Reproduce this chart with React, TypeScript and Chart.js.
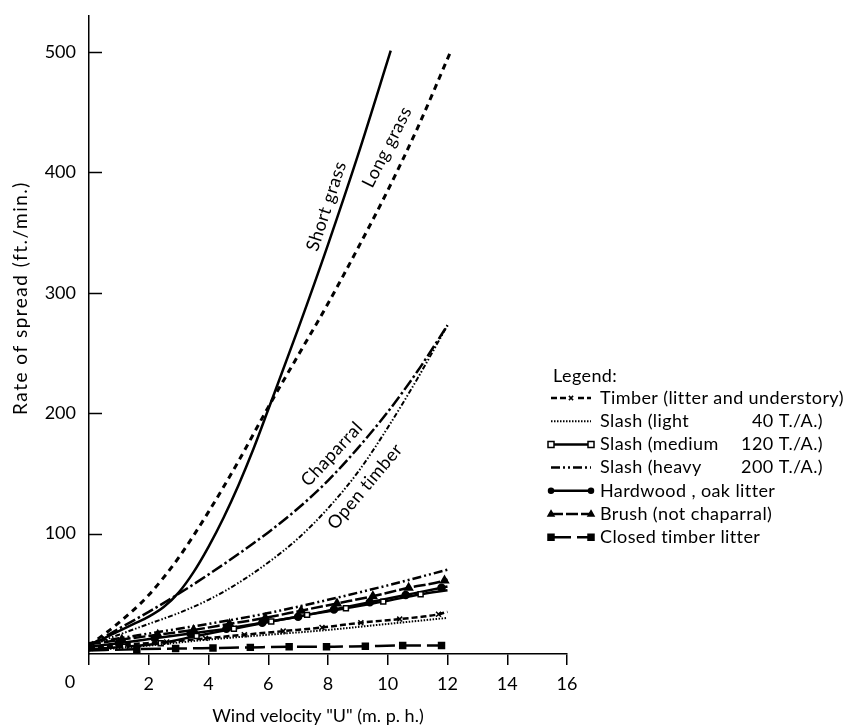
import React, { useEffect, useRef } from 'react';
import { Chart, registerables } from 'chart.js';

Chart.register(...registerables);

const FONT = 'Lato, "DejaVu Sans", sans-serif';

// Axis ticks
const xTickValues = [0, 2, 4, 6, 8, 10, 12, 14, 16];
const yTickValues = [100, 200, 300, 400, 500];

// Series (wind velocity mph -> rate of spread ft/min)
const shortGrassX = [0, 0.5, 1, 1.5, 2, 2.5, 3, 3.5, 4, 4.5, 5, 5.5, 6, 7, 8, 9, 10.1];
const shortGrassY = [7, 13, 19, 25, 31, 39, 51, 68, 89, 113, 140, 170, 203, 270, 340, 414, 501];

const longGrassX = [0, 1, 2, 3, 4, 5, 6, 7, 8, 9, 10, 11, 12.1];
const longGrassY = [7, 26, 49, 80, 118, 160, 205, 248, 291, 337, 385, 437, 500];

const chaparralX = [0, 1, 2, 3, 4, 5, 6, 7, 8, 9, 10, 11, 12];
const chaparralY = [7, 21, 35, 50, 66, 83, 101, 121, 144, 171, 201, 235, 273];

const openTimberX = [0, 1, 2, 3, 4, 5, 6, 7, 8, 9, 10, 11, 12];
const openTimberY = [7, 16, 25, 34, 45, 59, 76, 96, 121, 151, 188, 229, 273];

const timberX = [0, 1.3, 2.6, 3.9, 5.2, 6.5, 7.8, 9.1, 10.4, 11.7, 12];
const timberY = [5, 8, 10, 13, 16, 19, 22, 26, 29, 33, 35];

const slashLightX = [0, 2, 4, 6, 8, 10, 12];
const slashLightY = [3, 7, 12, 16, 20, 25, 30];

const slashMediumX = [0, 1.2, 2.4, 3.6, 4.85, 6.1, 7.3, 8.6, 9.85, 11.1, 12];
const slashMediumY = [4, 6, 9, 15, 21, 27, 32.5, 38, 43.5, 49.6, 53];

const slashHeavyX = [0, 1, 2, 3, 4, 6, 8, 10, 12];
const slashHeavyY = [9, 13, 17, 21, 25, 34, 45, 57, 70];

const hardwoodX = [0, 1.0, 2.2, 3.4, 4.6, 5.8, 7.0, 8.2, 9.4, 10.6, 11.8, 12];
const hardwoodY = [6, 9, 13, 17, 21, 26, 31, 37, 43, 49, 55, 56];

const brushX = [0, 1.1, 2.3, 3.5, 4.7, 5.9, 7.1, 8.3, 9.5, 10.7, 11.9, 12];
const brushY = [8, 12, 16, 20, 25, 30, 36, 42, 48, 55, 61, 62];

const closedTimberX = [0, 1.6, 2.9, 4.15, 5.4, 6.7, 7.95, 9.25, 10.5, 11.8];
const closedTimberY = [3, 4, 4.5, 5, 5.5, 6, 6, 6.5, 7, 7];

// Curve labels (text, anchor x, anchor y, rotation deg)
const curveLabelText = ['Short grass', 'Long grass', 'Chaparral', 'Open timber'];
const curveLabelX = [7.95, 9.98, 8.13, 9.24];
const curveLabelY = [372, 421, 166, 139];
const curveLabelRot = [-72, -63, -47, -50];

const legendTitle = 'Legend:';
const legendLeft = ['Timber (litter and understory)', 'Slash (light', 'Slash (medium', 'Slash (heavy', 'Hardwood , oak litter', 'Brush (not chaparral)', 'Closed timber litter'];
const legendRight = ['', '40 T./A.)', '120 T./A.)', '200 T./A.)', '', '', ''];

const pts = (xs: number[], ys: number[]) => xs.map((x, i) => ({ x, y: ys[i] }));

const innerRadius = (r: number) => (c: any) => (c.raw && c.raw.x > 0.05 && c.raw.x < 12 ? r : 0);

type Marker = { style: string; fill: boolean; r: number; pos: number[] } | null;

function drawMarker(ctx: CanvasRenderingContext2D, style: string, fill: boolean, x: number, y: number, r: number) {
  ctx.save();
  ctx.setLineDash([]);
  ctx.strokeStyle = '#000';
  ctx.fillStyle = fill ? '#000' : '#fff';
  ctx.lineWidth = 1.5;
  ctx.beginPath();
  if (style === 'rect') {
    ctx.rect(x - r, y - r, 2 * r, 2 * r);
    ctx.fill();
    ctx.stroke();
  } else if (style === 'circle') {
    ctx.arc(x, y, r, 0, Math.PI * 2);
    ctx.fill();
    ctx.stroke();
  } else if (style === 'triangle') {
    ctx.moveTo(x, y - r * 1.1);
    ctx.lineTo(x + r, y + r * 0.7);
    ctx.lineTo(x - r, y + r * 0.7);
    ctx.closePath();
    ctx.fill();
    ctx.stroke();
  } else if (style === 'crossRot') {
    ctx.fillStyle = '#fff';
    ctx.fillRect(x - r - 1, y - r, 2 * r + 2, 2 * r);
    ctx.moveTo(x - r * 0.7, y - r * 0.7);
    ctx.lineTo(x + r * 0.7, y + r * 0.7);
    ctx.moveTo(x + r * 0.7, y - r * 0.7);
    ctx.lineTo(x - r * 0.7, y + r * 0.7);
    ctx.stroke();
  }
  ctx.restore();
}

const legendMarkers: Marker[] = [
  { style: 'crossRot', fill: false, r: 3, pos: [0.5] },
  null,
  { style: 'rect', fill: false, r: 3, pos: [0, 1] },
  null,
  { style: 'circle', fill: true, r: 2.5, pos: [0, 1] },
  { style: 'triangle', fill: true, r: 3, pos: [0, 1] },
  { style: 'rect', fill: true, r: 3, pos: [0, 1] },
];

const overlayPlugin = {
  id: 'overlay',
  afterDraw(chart: any) {
    const { ctx, chartArea, scales } = chart;
    const xs = scales.x;
    const ys = scales.y;
    ctx.save();
    // inward y tick marks
    ctx.strokeStyle = '#000';
    ctx.lineWidth = 1.5;
    ctx.setLineDash([]);
    yTickValues.forEach((v) => {
      const py = Math.round(ys.getPixelForValue(v)) + 0.5;
      ctx.beginPath();
      ctx.moveTo(chartArea.left, py);
      ctx.lineTo(chartArea.left + 13, py);
      ctx.stroke();
    });
    // origin label "0"
    ctx.fillStyle = '#000';
    ctx.font = `18px ${FONT}`;
    ctx.textAlign = 'center';
    ctx.textBaseline = 'middle';
    ctx.fillText('0', chartArea.left - 19, chartArea.bottom + 28);

    // axis titles
    ctx.font = `18px ${FONT}`;
    ctx.fillText('Wind velocity "U" (m. p. h.)', 318, 716);
    ctx.save();
    ctx.translate(21, 298);
    ctx.rotate(-Math.PI / 2);
    ctx.font = `19px ${FONT}`;
    (ctx as any).letterSpacing = '1.5px';
    ctx.fillText('Rate of spread (ft./min.)', 0, 0);
    ctx.restore();

    // curve labels
    ctx.font = `18px ${FONT}`;
    curveLabelText.forEach((t, i) => {
      ctx.save();
      ctx.translate(xs.getPixelForValue(curveLabelX[i]), ys.getPixelForValue(curveLabelY[i]));
      ctx.rotate((curveLabelRot[i] * Math.PI) / 180);
      (ctx as any).letterSpacing = '0.5px';
      ctx.fillText(t, 0, 0);
      ctx.restore();
    });

    // legend
    ctx.textAlign = 'left';
    ctx.font = `18px ${FONT}`;
    (ctx as any).letterSpacing = '0.4px';
    ctx.fillText(legendTitle, 553, 376);
    const datasets = chart.data.datasets;
    legendLeft.forEach((t, i) => {
      const y = 398 + i * 23.2;
      const ds = datasets[4 + i];
      const x0 = 551;
      const x1 = 591;
      ctx.save();
      ctx.strokeStyle = '#000';
      ctx.lineWidth = Math.min(ds.borderWidth, 2.5);
      ctx.setLineDash(ds.borderDash || []);
      ctx.beginPath();
      ctx.moveTo(x0, y);
      ctx.lineTo(x1, y);
      ctx.stroke();
      ctx.restore();
      const m = legendMarkers[i];
      if (m) m.pos.forEach((p) => drawMarker(ctx, m.style, m.fill, x0 + (x1 - x0) * p, y, m.r));
      ctx.fillStyle = '#000';
      ctx.textAlign = 'left';
      ctx.fillText(t, 600, y);
      if (legendRight[i]) {
        ctx.textAlign = 'right';
        ctx.fillText(legendRight[i], 823, y);
      }
    });
    ctx.restore();
  },
};

export default function App() {
  const ref = useRef<HTMLCanvasElement | null>(null);
  useEffect(() => {
    if (!ref.current) return;
    const base = {
      borderColor: '#000',
      backgroundColor: '#000',
      fill: false,
      tension: 0.4,
      cubicInterpolationMode: 'monotone' as const,
      pointRadius: 0,
      pointHoverRadius: 0,
      borderCapStyle: 'butt' as const,
    };
    const chart = new Chart(ref.current, {
      type: 'line',
      data: {
        datasets: [
          { ...base, label: 'Short grass', data: pts(shortGrassX, shortGrassY), borderWidth: 2.5 },
          { ...base, label: 'Long grass', data: pts(longGrassX, longGrassY), borderWidth: 3, borderDash: [6, 5] },
          { ...base, label: 'Chaparral', data: pts(chaparralX, chaparralY), borderWidth: 2.5, borderDash: [12, 3, 2.5, 3] },
          { ...base, label: 'Open timber', data: pts(openTimberX, openTimberY), borderWidth: 2, borderDash: [5, 2, 1.5, 2, 1.5, 2] },
          { ...base, label: 'Timber (litter and understory)', data: pts(timberX, timberY), borderWidth: 2.5, borderDash: [6, 3], pointStyle: 'crossRot', pointRadius: innerRadius(3.5), pointBorderWidth: 1.5, pointBorderColor: '#000' },
          { ...base, label: 'Slash (light 40 T./A.)', data: pts(slashLightX, slashLightY), borderWidth: 2, borderDash: [1.5, 1.5] },
          { ...base, label: 'Slash (medium 120 T./A.)', data: pts(slashMediumX, slashMediumY), borderWidth: 2.5, pointStyle: 'rect', pointRadius: innerRadius(3.5), pointBackgroundColor: '#fff', pointBorderColor: '#000', pointBorderWidth: 1.5 },
          { ...base, label: 'Slash (heavy 200 T./A.)', data: pts(slashHeavyX, slashHeavyY), borderWidth: 2.5, borderDash: [9, 3, 2, 3, 2, 3] },
          { ...base, label: 'Hardwood , oak litter', data: pts(hardwoodX, hardwoodY), borderWidth: 2.5, pointStyle: 'circle', pointRadius: innerRadius(3), pointBackgroundColor: '#000' },
          { ...base, label: 'Brush (not chaparral)', data: pts(brushX, brushY), borderWidth: 2.5, borderDash: [12, 3], pointStyle: 'triangle', pointRadius: innerRadius(3.5), pointBackgroundColor: '#000' },
          { ...base, label: 'Closed timber litter', data: pts(closedTimberX, closedTimberY), borderWidth: 2.5, borderDash: [20, 6], pointStyle: 'rect', pointRadius: innerRadius(3.5), pointBackgroundColor: '#000' },
        ],
      },
      options: {
        animation: false,
        responsive: false,
        events: [],
        layout: { padding: { top: 0, right: 292, left: 0, bottom: 0 } },
        plugins: { legend: { display: false }, tooltip: { enabled: false }, title: { display: false } },
        scales: {
          x: {
            type: 'linear',
            min: 0,
            max: 16,
            afterBuildTicks: (s: any) => {
              s.ticks = xTickValues.map((v) => ({ value: v }));
            },
            afterFit: (s: any) => {
              s.height = 73;
            },
            grid: { display: true, drawOnChartArea: false, drawTicks: true, tickLength: 11, color: '#000', lineWidth: 1.5 },
            border: { display: true, color: '#000', width: 1.5 },
            ticks: {
              color: '#000',
              font: { family: FONT, size: 18 },
              padding: 8,
              maxRotation: 0,
              autoSkip: false,
              callback: (v: any) => (Number(v) === 0 ? '' : String(v)),
            },
          },
          y: {
            type: 'linear',
            min: 0,
            max: 530,
            afterBuildTicks: (s: any) => {
              s.ticks = yTickValues.map((v) => ({ value: v }));
            },
            afterFit: (s: any) => {
              s.width = 89;
            },
            grid: { display: false },
            border: { display: true, color: '#000', width: 1.5 },
            ticks: { color: '#000', font: { family: FONT, size: 18 }, padding: 5 },
          },
        },
      },
      plugins: [overlayPlugin],
    });
    return () => chart.destroy();
  }, []);
  return (
    <div style={{ position: 'fixed', left: 0, top: 0, width: 859, height: 727, background: '#fff' }}>
      <canvas ref={ref} width={859} height={727} style={{ width: 859, height: 727, display: 'block' }} />
    </div>
  );
}
